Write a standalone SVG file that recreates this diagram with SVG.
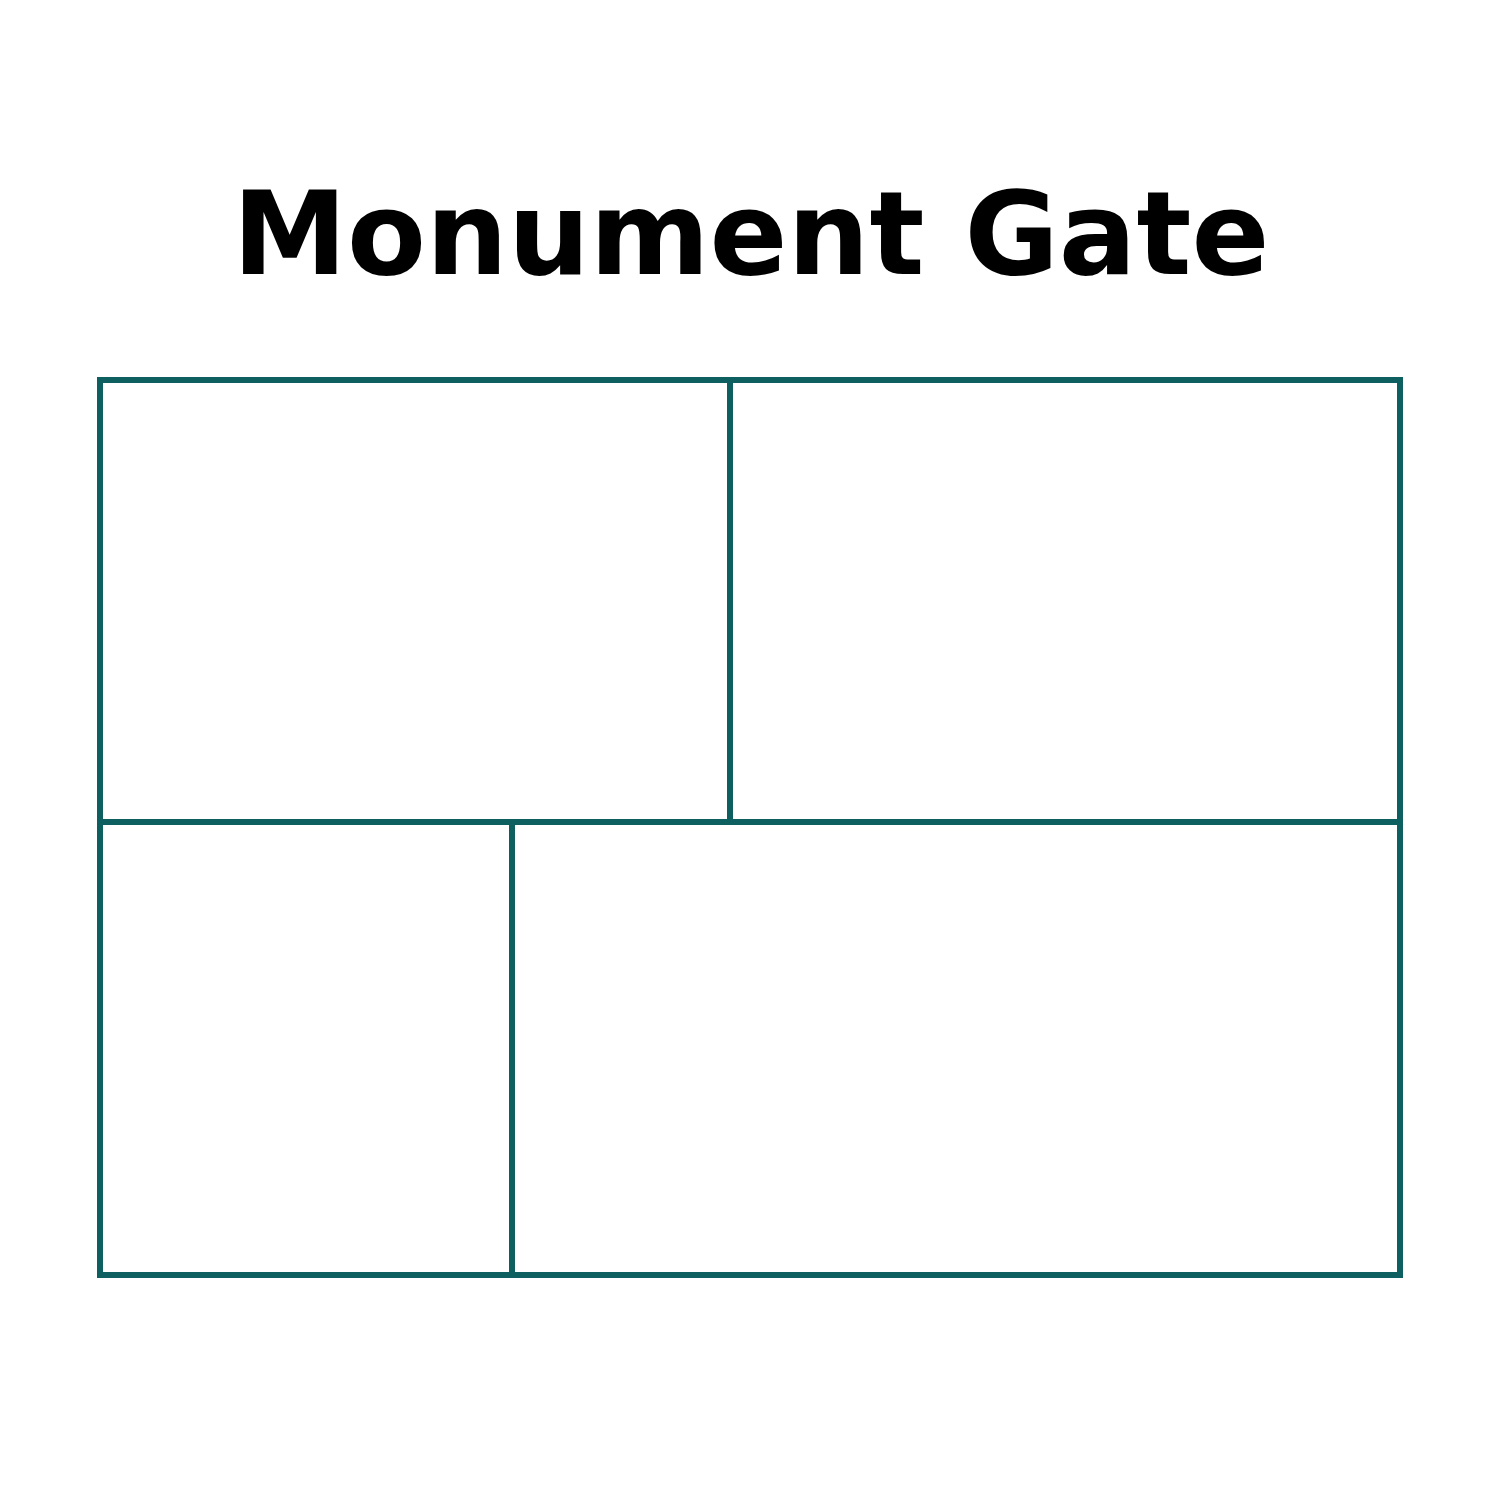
<svg xmlns="http://www.w3.org/2000/svg" width="1500" height="1500" viewBox="0 0 1500 1500">
<style>
.t{font-family:"DejaVu Sans",sans-serif;font-weight:bold;font-size:115px;fill:#000}
.w{fill:none;stroke:#0e5f5f;stroke-width:6}
</style>
<rect width="1500" height="1500" fill="#fff"/>
<text class="t" x="751" y="274" text-anchor="middle">Monument Gate</text>
<g id="plan">
<rect id="outer" class="w" x="100" y="380" width="1300" height="895"/>
<line id="div-h" class="w" x1="100" y1="822" x2="1400" y2="822"/>
<line id="div-top" class="w" x1="730" y1="380" x2="730" y2="822"/>
<line id="div-bottom" class="w" x1="512" y1="822" x2="512" y2="1275"/>
</g>
</svg>
